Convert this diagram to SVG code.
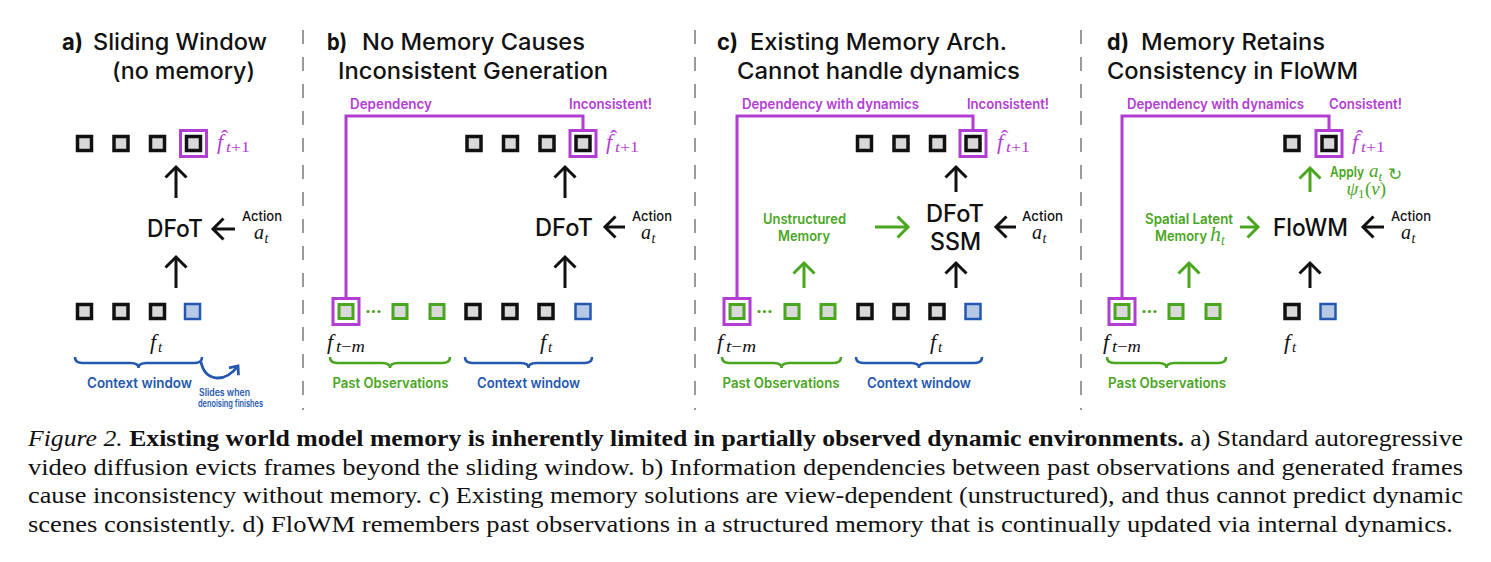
<svg xmlns="http://www.w3.org/2000/svg" width="1491" height="562" viewBox="0 0 1491 562">
<defs>
<style>
.ttl{font-family:Inter,'Liberation Sans',Arial,sans-serif;font-size:22.5px;font-weight:500;fill:#111}
.bold{font-weight:700}
.big{font-family:Inter,'Liberation Sans',Arial,sans-serif;font-size:24px;font-weight:500;fill:#111}
.lbl{font-family:Inter,'Liberation Sans',Arial,sans-serif;font-size:14px;font-weight:600}
.small{font-family:Inter,'Liberation Sans',Arial,sans-serif;font-size:10px;font-weight:600}
.act{fill:#111;font-weight:500;font-size:13.5px}
.pur{fill:#b23dd2}
.grn{fill:#4aa61f}
.blu{fill:#2458b0}
.blk{fill:#111}
.m{font-family:'Liberation Serif','DejaVu Serif',serif;font-style:italic}
.up{font-style:normal}
.acc{font-family:'Liberation Serif','DejaVu Serif',serif;font-style:normal}
.cap{font-family:'Liberation Serif','Times New Roman',serif;font-size:24px;fill:#111}
.sq{fill:#d9d9d9;stroke:#111;stroke-width:3.5}
.sqg{fill:#d9d9d9;stroke:#4aa61f;stroke-width:3}
.sqb{fill:#b6c8e4;stroke:#2458b0;stroke-width:2.5}
.hl{fill:none;stroke:#b23dd2;stroke-width:3}
.dep{fill:none;stroke:#b23dd2;stroke-width:3}
.ak{fill:none;stroke:#111;stroke-width:3;marker-end:url(#hk)}
.ag{fill:none;stroke:#4aa61f;stroke-width:3;marker-end:url(#hg)}
.ab{fill:none;stroke:#2458b0;stroke-width:2.8;marker-end:url(#hb)}
.br{fill:none;stroke-width:2.5}
.brg{stroke:#4aa61f}
.brb{stroke:#2458b0}
.sep{stroke:#9a9a9a;stroke-width:2;stroke-dasharray:14 13}
.dot{fill:#4aa61f}
</style>
<marker id="hk" markerUnits="userSpaceOnUse" viewBox="0 -13 19 26" refX="15" refY="0" markerWidth="19" markerHeight="26" orient="auto"><path d="M4.5,-10.5 L15,0 L4.5,10.5" fill="none" stroke="#111" stroke-width="3"/></marker>
<marker id="hg" markerUnits="userSpaceOnUse" viewBox="0 -13 19 26" refX="15" refY="0" markerWidth="19" markerHeight="26" orient="auto"><path d="M4.5,-10.5 L15,0 L4.5,10.5" fill="none" stroke="#4aa61f" stroke-width="3"/></marker>
<marker id="hb" markerUnits="userSpaceOnUse" viewBox="0 -9 14 18" refX="10" refY="0" markerWidth="14" markerHeight="18" orient="auto"><path d="M3,-6 L10,0 L3,6" fill="none" stroke="#2458b0" stroke-width="2.8"/></marker>
</defs>
<rect width="1491" height="562" fill="#fff"/>

<g id="separators">
<line class="sep" x1="303" y1="30" x2="303" y2="410"/>
<line class="sep" x1="695" y1="30" x2="695" y2="410"/>
<line class="sep" x1="1081" y1="30" x2="1081" y2="410"/>
</g>

<g id="connectors">
<path class="ak" d="M176,198 V167"/>
<path class="ak" d="M176,288 V257"/>
<path class="ak" d="M235,229 H213"/>
<path class="ab" d="M201,362 C205,381 224,384 238,366"/>
<path class="dep" d="M346,298 V116 H583 V129"/>
<path class="ak" d="M565,198 V167"/>
<path class="ak" d="M565,288 V257"/>
<path class="ak" d="M625,227 H605"/>
<path class="dep" d="M737,298 V116 H973 V129"/>
<path class="ak" d="M956,192 V167"/>
<path class="ak" d="M956,288 V263"/>
<path class="ak" d="M1016,227 H996"/>
<path class="ag" d="M804,288 V263"/>
<path class="ag" d="M875,227 H908"/>
<path class="dep" d="M1122,298 V116 H1329 V129"/>
<path class="ag" d="M1310,192 V168"/>
<path class="ak" d="M1310,288 V263"/>
<path class="ak" d="M1384,227 H1363"/>
<path class="ag" d="M1189,288 V263"/>
<path class="ag" d="M1240,227 H1258"/>
<path class="br brb" d="M75,357 C75,362 78,363 85,363 H130.5 C135.5,363 138.5,365 138.5,368 C138.5,365 141.5,363 146.5,363 H192 C199,363 202,362 202,357"/>
<path class="br brg" d="M330,357 C330,362 333,363 340,363 H382 C387,363 390,365 390,368 C390,365 393,363 398,363 H440 C447,363 450,362 450,357"/>
<path class="br brb" d="M465,357 C465,362 468,363 475,363 H520.5 C525.5,363 528.5,365 528.5,368 C528.5,365 531.5,363 536.5,363 H582 C589,363 592,362 592,357"/>
<path class="br brg" d="M722,357 C722,362 725,363 732,363 H773.5 C778.5,363 781.5,365 781.5,368 C781.5,365 784.5,363 789.5,363 H831 C838,363 841,362 841,357"/>
<path class="br brb" d="M856,357 C856,362 859,363 866,363 H911 C916,363 919,365 919,368 C919,365 922,363 927,363 H972 C979,363 982,362 982,357"/>
<path class="br brg" d="M1107,357 C1107,362 1110,363 1117,363 H1158.5 C1163.5,363 1166.5,365 1166.5,368 C1166.5,365 1169.5,363 1174.5,363 H1216 C1223,363 1226,362 1226,357"/>
</g>

<g id="panel-a">
<g id="a-title">
<text class="ttl bold" x="62" y="49.5" textLength="21" lengthAdjust="spacingAndGlyphs">a)</text>
<text class="ttl" x="93" y="49.5" textLength="174" lengthAdjust="spacingAndGlyphs">Sliding Window</text>
<text class="ttl" x="112" y="78.5" textLength="143" lengthAdjust="spacingAndGlyphs">(no memory)</text>
</g>
<g id="a-generated">
<rect class="sq" x="77.5" y="136.5" width="14" height="14"/>
<rect class="sq" x="114" y="136.5" width="14" height="14"/>
<rect class="sq" x="150.5" y="136.5" width="14" height="14"/>
<rect class="sq" x="186.5" y="136.5" width="14" height="14"/>
<rect class="hl" x="180.5" y="130.5" width="26" height="26"/>
<g transform="translate(217,149)">
<text class="m pur" x="0" y="0" font-size="22">f</text>
<text class="acc pur" x="4" y="-4" font-size="22">ˆ</text>
<text class="m pur" x="9" y="3" font-size="15" textLength="24" lengthAdjust="spacingAndGlyphs">t<tspan class="up">+1</tspan></text>
</g>
</g>
<g id="a-dfot"><text class="big" x="147" y="237" textLength="56" lengthAdjust="spacingAndGlyphs">DFoT</text></g>
<g id="a-action">
<text class="lbl act" x="242" y="221" textLength="40" lengthAdjust="spacingAndGlyphs">Action</text>
<text class="m blk" x="254" y="239" font-size="20">a</text><text class="m blk" x="264.5" y="243" font-size="14">t</text>
</g>
<g id="a-context">
<rect class="sq" x="77.5" y="304.5" width="14" height="14"/>
<rect class="sq" x="114" y="304.5" width="14" height="14"/>
<rect class="sq" x="150.5" y="304.5" width="14" height="14"/>
<rect class="sqb" x="185" y="304" width="15" height="15"/>
<text class="m blk" x="150" y="349" font-size="22">f</text><text class="m blk" x="158" y="352" font-size="15">t</text>
<text class="lbl blu" x="87" y="388" textLength="105" lengthAdjust="spacingAndGlyphs">Context window</text>
<text class="small blu" x="199" y="396" textLength="51" lengthAdjust="spacingAndGlyphs">Slides when</text>
<text class="small blu" x="198" y="407" textLength="65" lengthAdjust="spacingAndGlyphs">denoising finishes</text>
</g>
</g>

<g id="panel-b">
<g id="b-title">
<text class="ttl bold" x="327" y="49.5" textLength="20" lengthAdjust="spacingAndGlyphs">b)</text>
<text class="ttl" x="362" y="49.5" textLength="223" lengthAdjust="spacingAndGlyphs">No Memory Causes</text>
<text class="ttl" x="338" y="78.5" textLength="270" lengthAdjust="spacingAndGlyphs">Inconsistent Generation</text>
</g>
<g id="b-labels">
<text class="lbl pur" x="350" y="108.5" textLength="82" lengthAdjust="spacingAndGlyphs">Dependency</text>
<text class="lbl pur" x="569" y="109" textLength="83" lengthAdjust="spacingAndGlyphs">Inconsistent!</text>
</g>
<g id="b-generated">
<rect class="sq" x="467" y="136.5" width="14" height="14"/>
<rect class="sq" x="503.5" y="136.5" width="14" height="14"/>
<rect class="sq" x="540" y="136.5" width="14" height="14"/>
<rect class="sq" x="576" y="136.5" width="14" height="14"/>
<rect class="hl" x="570" y="130.5" width="26" height="26"/>
<g transform="translate(606,149)">
<text class="m pur" x="0" y="0" font-size="22">f</text>
<text class="acc pur" x="4" y="-4" font-size="22">ˆ</text>
<text class="m pur" x="9" y="3" font-size="15" textLength="24" lengthAdjust="spacingAndGlyphs">t<tspan class="up">+1</tspan></text>
</g>
</g>
<g id="b-dfot"><text class="big" x="535" y="236" textLength="58" lengthAdjust="spacingAndGlyphs">DFoT</text></g>
<g id="b-action">
<text class="lbl act" x="632" y="221" textLength="40" lengthAdjust="spacingAndGlyphs">Action</text>
<text class="m blk" x="641" y="239" font-size="20">a</text><text class="m blk" x="651.5" y="243" font-size="14">t</text>
</g>
<g id="b-past">
<rect class="sqg" x="339" y="304.5" width="14" height="14"/>
<rect class="hl" x="333" y="298.5" width="26" height="26"/>
<circle class="dot" cx="368" cy="311.5" r="1.6"/><circle class="dot" cx="373.5" cy="311.5" r="1.6"/><circle class="dot" cx="379" cy="311.5" r="1.6"/>
<rect class="sqg" x="393" y="304.5" width="14" height="14"/>
<rect class="sqg" x="430" y="304.5" width="14" height="14"/>
<text class="m blk" x="327" y="349" font-size="22">f</text><text class="m blk" x="336" y="352" font-size="16" textLength="29" lengthAdjust="spacingAndGlyphs">t<tspan class="up">−</tspan>m</text>
<text class="lbl grn" x="332.5" y="388" textLength="116" lengthAdjust="spacingAndGlyphs">Past Observations</text>
</g>
<g id="b-context">
<rect class="sq" x="466" y="304.5" width="14" height="14"/>
<rect class="sq" x="503" y="304.5" width="14" height="14"/>
<rect class="sq" x="539" y="304.5" width="14" height="14"/>
<rect class="sqb" x="575.5" y="304" width="15" height="15"/>
<text class="m blk" x="540" y="349" font-size="22">f</text><text class="m blk" x="548" y="352" font-size="15">t</text>
<text class="lbl blu" x="477" y="388" textLength="103" lengthAdjust="spacingAndGlyphs">Context window</text>
</g>
</g>

<g id="panel-c">
<g id="c-title">
<text class="ttl bold" x="717" y="49.5" textLength="21" lengthAdjust="spacingAndGlyphs">c)</text>
<text class="ttl" x="750" y="49.5" textLength="257" lengthAdjust="spacingAndGlyphs">Existing Memory Arch.</text>
<text class="ttl" x="737" y="78.5" textLength="283" lengthAdjust="spacingAndGlyphs">Cannot handle dynamics</text>
</g>
<g id="c-labels">
<text class="lbl pur" x="742" y="109" textLength="177" lengthAdjust="spacingAndGlyphs">Dependency with dynamics</text>
<text class="lbl pur" x="967" y="109" textLength="82" lengthAdjust="spacingAndGlyphs">Inconsistent!</text>
</g>
<g id="c-generated">
<rect class="sq" x="857.5" y="136.5" width="14" height="14"/>
<rect class="sq" x="894" y="136.5" width="14" height="14"/>
<rect class="sq" x="930.5" y="136.5" width="14" height="14"/>
<rect class="sq" x="966" y="136.5" width="14" height="14"/>
<rect class="hl" x="960" y="130.5" width="26" height="26"/>
<g transform="translate(997,149)">
<text class="m pur" x="0" y="0" font-size="22">f</text>
<text class="acc pur" x="4" y="-4" font-size="22">ˆ</text>
<text class="m pur" x="9" y="3" font-size="15" textLength="24" lengthAdjust="spacingAndGlyphs">t<tspan class="up">+1</tspan></text>
</g>
</g>
<g id="c-model">
<text class="big" x="926" y="222" textLength="58" lengthAdjust="spacingAndGlyphs">DFoT</text>
<text class="big" x="930" y="250" textLength="51" lengthAdjust="spacingAndGlyphs">SSM</text>
</g>
<g id="c-action">
<text class="lbl act" x="1022" y="221" textLength="41" lengthAdjust="spacingAndGlyphs">Action</text>
<text class="m blk" x="1032" y="239" font-size="20">a</text><text class="m blk" x="1042.5" y="243" font-size="14">t</text>
</g>
<g id="c-memory">
<text class="lbl grn" x="763" y="224" textLength="83" lengthAdjust="spacingAndGlyphs">Unstructured</text>
<text class="lbl grn" x="778" y="241" textLength="52" lengthAdjust="spacingAndGlyphs">Memory</text>
</g>
<g id="c-past">
<rect class="sqg" x="730" y="304.5" width="14" height="14"/>
<rect class="hl" x="724" y="298.5" width="26" height="26"/>
<circle class="dot" cx="759" cy="311.5" r="1.6"/><circle class="dot" cx="764.5" cy="311.5" r="1.6"/><circle class="dot" cx="770" cy="311.5" r="1.6"/>
<rect class="sqg" x="785" y="304.5" width="14" height="14"/>
<rect class="sqg" x="821" y="304.5" width="14" height="14"/>
<text class="m blk" x="717" y="349" font-size="22">f</text><text class="m blk" x="726" y="352" font-size="16" textLength="30" lengthAdjust="spacingAndGlyphs">t<tspan class="up">−</tspan>m</text>
<text class="lbl grn" x="722.5" y="388" textLength="117" lengthAdjust="spacingAndGlyphs">Past Observations</text>
</g>
<g id="c-context">
<rect class="sq" x="858" y="304.5" width="14" height="14"/>
<rect class="sq" x="894" y="304.5" width="14" height="14"/>
<rect class="sq" x="930" y="304.5" width="14" height="14"/>
<rect class="sqb" x="965.5" y="304" width="15" height="15"/>
<text class="m blk" x="930" y="349" font-size="22">f</text><text class="m blk" x="938" y="352" font-size="15">t</text>
<text class="lbl blu" x="867" y="388" textLength="104" lengthAdjust="spacingAndGlyphs">Context window</text>
</g>
</g>

<g id="panel-d">
<g id="d-title">
<text class="ttl bold" x="1107" y="49.5" textLength="22" lengthAdjust="spacingAndGlyphs">d)</text>
<text class="ttl" x="1141" y="49.5" textLength="184" lengthAdjust="spacingAndGlyphs">Memory Retains</text>
<text class="ttl" x="1107" y="78.5" textLength="251" lengthAdjust="spacingAndGlyphs">Consistency in FloWM</text>
</g>
<g id="d-labels">
<text class="lbl pur" x="1127" y="109" textLength="177" lengthAdjust="spacingAndGlyphs">Dependency with dynamics</text>
<text class="lbl pur" x="1329" y="109" textLength="73" lengthAdjust="spacingAndGlyphs">Consistent!</text>
</g>
<g id="d-generated">
<rect class="sq" x="1285" y="136.5" width="14" height="14"/>
<rect class="sq" x="1322" y="136.5" width="14" height="14"/>
<rect class="hl" x="1316" y="130.5" width="26" height="26"/>
<g transform="translate(1352,149)">
<text class="m pur" x="0" y="0" font-size="22">f</text>
<text class="acc pur" x="4" y="-4" font-size="22">ˆ</text>
<text class="m pur" x="9" y="3" font-size="15" textLength="24" lengthAdjust="spacingAndGlyphs">t<tspan class="up">+1</tspan></text>
</g>
</g>
<g id="d-apply">
<text class="lbl grn" x="1330" y="177" textLength="34" lengthAdjust="spacingAndGlyphs">Apply</text>
<text class="m grn" x="1369" y="177" font-size="19">a</text><text class="m grn" x="1378.5" y="181" font-size="13">t</text>
<text class="grn" x="1388" y="180" font-family="'DejaVu Sans',sans-serif" font-size="17">↻</text>
<text class="m grn" x="1346.5" y="195" font-size="19">ψ</text><text class="grn" x="1358" y="198" font-family="'Liberation Serif',serif" font-size="13">1</text>
<text class="grn" x="1365" y="195" font-family="'Liberation Serif',serif" font-size="19">(<tspan font-style="italic">ν</tspan>)</text>
</g>
<g id="d-flowm"><text class="big" x="1273" y="236" textLength="75" lengthAdjust="spacingAndGlyphs">FloWM</text></g>
<g id="d-action">
<text class="lbl act" x="1391" y="221" textLength="40" lengthAdjust="spacingAndGlyphs">Action</text>
<text class="m blk" x="1401" y="239" font-size="20">a</text><text class="m blk" x="1411.5" y="243" font-size="14">t</text>
</g>
<g id="d-memory">
<text class="lbl grn" x="1145" y="224" textLength="88" lengthAdjust="spacingAndGlyphs">Spatial Latent</text>
<text class="lbl grn" x="1155" y="241" textLength="52" lengthAdjust="spacingAndGlyphs">Memory</text>
<text class="m grn" x="1210" y="241" font-size="22">h</text><text class="m grn" x="1221" y="245" font-size="14">t</text>
</g>
<g id="d-past">
<rect class="sqg" x="1115" y="304.5" width="14" height="14"/>
<rect class="hl" x="1109" y="298.5" width="26" height="26"/>
<circle class="dot" cx="1144" cy="311.5" r="1.6"/><circle class="dot" cx="1149.5" cy="311.5" r="1.6"/><circle class="dot" cx="1155" cy="311.5" r="1.6"/>
<rect class="sqg" x="1169" y="304.5" width="14" height="14"/>
<rect class="sqg" x="1206" y="304.5" width="14" height="14"/>
<text class="m blk" x="1103" y="349" font-size="22">f</text><text class="m blk" x="1112" y="352" font-size="16" textLength="29" lengthAdjust="spacingAndGlyphs">t<tspan class="up">−</tspan>m</text>
<text class="lbl grn" x="1108" y="388" textLength="118" lengthAdjust="spacingAndGlyphs">Past Observations</text>
</g>
<g id="d-context">
<rect class="sq" x="1285" y="304.5" width="14" height="14"/>
<rect class="sqb" x="1320.5" y="304" width="15" height="15"/>
<text class="m blk" x="1284" y="349" font-size="22">f</text><text class="m blk" x="1292" y="352" font-size="15">t</text>
</g>
</g>

<g id="caption">
<text class="cap" x="28" y="446" textLength="1435" lengthAdjust="spacingAndGlyphs"><tspan font-style="italic">Figure 2.</tspan> <tspan font-weight="bold">Existing world model memory is inherently limited in partially observed dynamic environments.</tspan> a) Standard autoregressive</text>
<text class="cap" x="28" y="474.5" textLength="1435" lengthAdjust="spacingAndGlyphs">video diffusion evicts frames beyond the sliding window. b) Information dependencies between past observations and generated frames</text>
<text class="cap" x="28" y="503" textLength="1435" lengthAdjust="spacingAndGlyphs">cause inconsistency without memory. c) Existing memory solutions are view-dependent (unstructured), and thus cannot predict dynamic</text>
<text class="cap" x="28" y="531.5" textLength="1425" lengthAdjust="spacingAndGlyphs">scenes consistently. d) FloWM remembers past observations in a structured memory that is continually updated via internal dynamics.</text>
</g>
</svg>
